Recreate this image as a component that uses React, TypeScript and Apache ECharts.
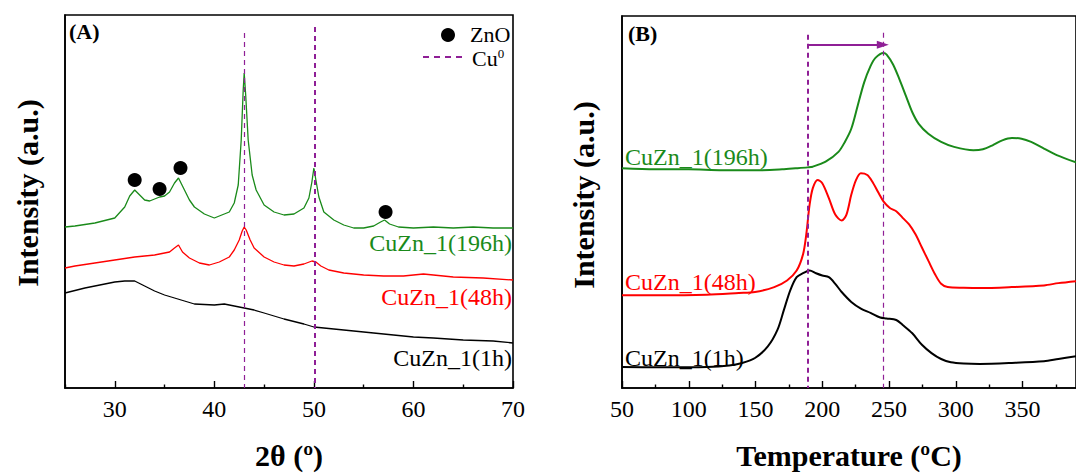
import React, { useEffect, useRef } from "react";
import * as echarts from "echarts";

// ---------- Panel A: XRD (2θ, intensity a.u.) ----------
const xrd196h: [number, number][] = [
  [25, 161], [26, 162], [28, 165], [30, 170], [31, 181], [31.5, 192], [32, 198], [32.5, 193],
  [33, 188], [33.5, 187], [34, 189], [34.5, 191], [35, 192], [35.5, 196], [36, 205], [36.4, 210],
  [37, 198], [37.5, 188], [38, 181], [39, 174], [40, 170], [41, 174], [41.5, 176], [42, 185],
  [42.4, 203], [42.7, 248], [42.9, 298], [43.0, 315], [43.15, 293], [43.4, 248], [43.8, 213],
  [44.2, 198], [45, 183], [46, 176], [47, 173], [48, 174], [49, 180], [49.5, 190], [49.8, 206],
  [50.0, 220], [50.2, 208], [50.5, 191], [51, 176], [52, 168], [53, 163], [54, 160], [55, 160],
  [56, 162], [56.7, 166], [57.1, 168], [57.6, 164], [58.5, 161], [60, 160], [62, 161], [64, 160],
  [66, 161], [68, 160], [70, 160],
];
const xrd48h: [number, number][] = [
  [25, 120], [26, 122], [28, 125], [30, 128], [32, 131], [34, 133], [35.5, 136], [36.0, 140],
  [36.4, 143], [36.8, 136], [37.5, 130], [38.5, 125], [39.5, 123], [40.5, 126], [41.5, 131],
  [42, 138], [42.5, 148], [42.8, 157], [43, 161], [43.2, 158], [43.6, 148], [44, 140], [45, 131],
  [46, 126], [47, 123], [48, 122], [49, 124], [49.8, 127], [50.2, 126], [50.7, 122], [51.5, 118],
  [53, 115], [55, 113], [57, 112], [59, 112], [61, 114], [62, 113], [64, 111], [67, 110], [70, 108],
];
const xrd1h: [number, number][] = [
  [25, 95], [27, 100], [29, 104], [30, 106], [31, 107], [32, 107], [33, 102], [34, 97], [35, 93],
  [36, 90], [37, 87], [38, 84], [40, 83], [41, 84], [42, 82], [43, 80], [44, 78], [45, 75],
  [47, 69], [49, 64], [50, 61], [52, 59], [54, 57], [56, 55], [58, 53], [60, 51], [62, 50],
  [65, 48], [68, 47], [70, 45],
];
const znoPeaks: [number, number][] = [[32.0, 208], [34.5, 199], [36.6, 220], [57.2, 176]];
const cuLinesA = [43.0, 50.1];
const rangeA = [25, 70];
const majorTicksA = [30, 40, 50, 60, 70];
const minorTicksA = [25, 35, 45, 55, 65];

// ---------- Panel B: TPR (temperature, intensity a.u.) ----------
const tpr196h: [number, number][] = [
  [50, 222], [75, 221], [100, 221], [125, 220], [150, 220], [170, 221], [180, 222], [189, 223],
  [192.9, 223.7], [202.5, 228.7], [212.1, 238.7], [216.9, 248.7], [221.7, 262], [226.5, 285.3],
  [231.3, 308.7], [236.1, 325.3], [239.8, 333.7], [245.8, 338.7], [248.2, 337], [253, 327],
  [257.8, 312], [262.6, 295.3], [267.4, 278.7], [272.2, 267], [279.4, 257], [289, 248.7],
  [298.7, 243.7], [313.1, 240.3], [320.3, 241.3], [327.5, 245.3], [334.8, 250.3], [342, 252.7],
  [349.2, 252], [356.4, 248.7], [366, 242], [375.6, 235.3], [390, 228],
];
const tpr48h: [number, number][] = [
  [50, 93.7], [77.4, 93.7], [113.5, 94.3], [137.5, 96], [149.6, 97], [164, 102], [173.6, 108.7],
  [180.8, 118.7], [185.6, 135.3], [188, 155.3], [190.5, 185.3], [192.9, 202], [196.5, 210.3],
  [200, 207], [204.9, 192], [209.7, 175.3], [214.5, 169.3], [218.1, 175.3], [221.7, 195.3],
  [225.3, 210.3], [228.9, 217], [233.7, 215.3], [237.4, 208.7], [242.2, 197], [245.8, 188.7],
  [250.6, 182], [255.4, 178.7], [260.2, 172], [265, 165.3], [269.8, 155.3], [274.6, 142],
  [279.4, 128.7], [284.3, 115.3], [289, 105.3], [293.9, 102], [305.9, 101.3], [317.9, 101],
  [342, 102], [366, 103.7], [376.8, 106], [390, 108],
];
const tpr1h: [number, number][] = [
  [50, 21.3], [77.4, 21], [113.5, 21.3], [130.3, 22.7], [140, 25.3], [149.6, 30.3], [159.2, 42],
  [166.4, 58.7], [171.2, 78.7], [176, 98.7], [180.8, 112], [185.6, 116], [190.5, 118.7],
  [195.3, 116], [200, 113.7], [204.9, 112], [209.7, 105.3], [214.5, 97], [221.7, 87],
  [228.9, 80.3], [236.1, 76], [243.4, 71.3], [248.2, 70.3], [255.4, 68.7], [260.2, 63.7],
  [267.4, 55.3], [274.6, 43.7], [281.8, 35.3], [289, 29.3], [296.3, 26], [305.9, 24.7],
  [317.9, 24.3], [342, 25.3], [366, 27], [376.8, 29.3], [390, 32],
];
const peakShiftB = [189, 245.3];
const rangeB = [50, 390];
const majorTicksB = [50, 100, 150, 200, 250, 300, 350];
const minorTicksB = [75, 125, 175, 225, 275, 325, 375];

const SERIF = "'Liberation Serif', 'Times New Roman', serif";
const PURPLE = "#8f1f96";
const GREEN = "#1a8a1a";
const RED = "#ff0000";
const BLACK = "#000000";

function majorX(gridIndex: number, range: number[], ticks: number[], name: string) {
  return {
    type: "value",
    gridIndex,
    position: "bottom",
    min: range[0],
    max: range[1],
    name,
    nameLocation: "middle",
    nameGap: 52,
    nameTextStyle: { fontFamily: SERIF, fontSize: 30, fontWeight: "bold", color: BLACK },
    axisLine: { show: true, onZero: false, lineStyle: { color: BLACK, width: 1.6 } },
    axisTick: { show: true, inside: true, length: 7, customValues: ticks, lineStyle: { color: BLACK, width: 1.4 } },
    axisLabel: { margin: 9, fontFamily: SERIF, fontSize: 24, color: BLACK, customValues: ticks },
    splitLine: { show: false },
  };
}

function minorX(gridIndex: number, range: number[], ticks: number[]) {
  return {
    type: "value",
    gridIndex,
    position: "bottom",
    min: range[0],
    max: range[1],
    axisLine: { show: false, onZero: false },
    axisTick: { show: true, inside: true, length: 3.5, customValues: ticks, lineStyle: { color: BLACK, width: 1.4 } },
    axisLabel: { show: false },
    splitLine: { show: false },
  };
}

function baseY(gridIndex: number, max: number) {
  return {
    type: "value",
    gridIndex,
    min: 0,
    max,
    axisLine: { show: true, onZero: false, lineStyle: { color: BLACK, width: 1.6 } },
    axisTick: { show: false },
    axisLabel: { show: false },
    splitLine: { show: false },
  };
}

function lineSeries(name: string, data: [number, number][], color: string, xi: number, yi: number, width: number, smooth: number | boolean) {
  return {
    name,
    type: "line",
    xAxisIndex: xi,
    yAxisIndex: yi,
    data,
    showSymbol: false,
    smooth,
    lineStyle: { color, width },
    itemStyle: { color },
    z: 3,
  };
}

const dashStyle = (width: number) => ({ color: PURPLE, width, type: [5, 4] as any });

export default function App() {
  const ref = useRef<HTMLDivElement>(null);
  useEffect(() => {
    if (!ref.current) return;
    const chart = echarts.init(ref.current, null, { renderer: "svg" });
    const option: any = {
      animation: false,
      backgroundColor: "#ffffff",
      grid: [
        { left: 65, top: 15, width: 448, height: 373, show: true, borderColor: BLACK, borderWidth: 1.6, backgroundColor: "transparent" },
        { left: 622, top: 16, width: 471, height: 376, show: true, borderColor: BLACK, borderWidth: 1.6, backgroundColor: "transparent" },
      ],
      xAxis: [
        majorX(0, rangeA, majorTicksA, "2θ (º)"),
        majorX(1, rangeB, majorTicksB, "Temperature (ºC)"),
        minorX(0, rangeA, minorTicksA),
        minorX(1, rangeB, minorTicksB),
      ],
      yAxis: [baseY(0, 373), baseY(1, 376)],
      series: [
        lineSeries("CuZn_1(196h)", xrd196h, GREEN, 0, 0, 1.3, false),
        lineSeries("CuZn_1(48h)", xrd48h, RED, 0, 0, 1.3, false),
        lineSeries("CuZn_1(1h)", xrd1h, BLACK, 0, 0, 1.3, false),
        {
          name: "ZnO",
          type: "scatter",
          xAxisIndex: 0,
          yAxisIndex: 0,
          data: znoPeaks,
          symbol: "circle",
          symbolSize: 14,
          itemStyle: { color: BLACK, opacity: 1 },
          z: 4,
        },
        {
          name: "Cu0",
          type: "line",
          xAxisIndex: 0,
          yAxisIndex: 0,
          data: [],
          markLine: {
            silent: true,
            symbol: ["none", "none"],
            label: { show: false },
            data: [
              [{ coord: [cuLinesA[0], 355], lineStyle: dashStyle(1.2) }, { coord: [cuLinesA[0], 0] }],
              [{ coord: [cuLinesA[1], 361], lineStyle: dashStyle(2) }, { coord: [cuLinesA[1], 0] }],
            ],
          },
        },
        lineSeries("CuZn_1(196h) TPR", tpr196h, GREEN, 1, 1, 2, 0.3),
        lineSeries("CuZn_1(48h) TPR", tpr48h, RED, 1, 1, 2, 0.3),
        lineSeries("CuZn_1(1h) TPR", tpr1h, BLACK, 1, 1, 2, 0.3),
        {
          name: "shift",
          type: "line",
          xAxisIndex: 1,
          yAxisIndex: 1,
          data: [],
          markLine: {
            silent: true,
            symbol: ["none", "none"],
            label: { show: false },
            data: [
              [{ coord: [peakShiftB[0], 357], lineStyle: dashStyle(2) }, { coord: [peakShiftB[0], 0] }],
              [{ coord: [peakShiftB[1], 359], lineStyle: dashStyle(1.2) }, { coord: [peakShiftB[1], 0] }],
              [
                { coord: [peakShiftB[0], 347], symbol: "none", lineStyle: { color: PURPLE, width: 2, type: "solid" } },
                { coord: [peakShiftB[1], 347], symbol: "triangle", symbolSize: [8, 12], symbolRotate: -90 },
              ],
            ],
          },
        },
      ],
      graphic: [
        // Panel A texts
        { type: "text", left: 69, top: 20, style: { text: "(A)", font: `bold 22px ${SERIF}`, fill: BLACK } },
        { type: "circle", shape: { cx: 448, cy: 35, r: 7 }, style: { fill: BLACK } },
        { type: "text", x: 470, y: 34, style: { text: "ZnO", font: `22px ${SERIF}`, fill: BLACK, verticalAlign: "middle" } },
        { type: "line", shape: { x1: 423, y1: 57, x2: 466, y2: 57 }, style: { stroke: PURPLE, lineWidth: 2, lineDash: [6, 5] } },
        {
          type: "text",
          x: 472,
          y: 58,
          style: {
            text: "{a|Cu}{b|0}",
            verticalAlign: "middle",
            rich: {
              a: { fontFamily: SERIF, fontSize: 22, fill: BLACK },
              b: { fontFamily: SERIF, fontSize: 13, fill: BLACK, verticalAlign: "top", padding: [0, 0, 10, 0] },
            },
          },
        },
        { type: "text", x: 512, y: 243, style: { text: "CuZn_1(196h)", font: `24px ${SERIF}`, fill: GREEN, align: "right", verticalAlign: "middle" } },
        { type: "text", x: 512, y: 297, style: { text: "CuZn_1(48h)", font: `24px ${SERIF}`, fill: RED, align: "right", verticalAlign: "middle" } },
        { type: "text", x: 512, y: 358, style: { text: "CuZn_1(1h)", font: `24px ${SERIF}`, fill: BLACK, align: "right", verticalAlign: "middle" } },
        { type: "text", x: 27, y: 193, rotation: Math.PI / 2, style: { text: "Intensity (a.u.)", font: `bold 30px ${SERIF}`, fill: BLACK, align: "center", verticalAlign: "middle" } },
        // Panel B texts
        { type: "text", left: 628, top: 22, style: { text: "(B)", font: `bold 22px ${SERIF}`, fill: BLACK } },
        { type: "text", x: 625, y: 157, style: { text: "CuZn_1(196h)", font: `24px ${SERIF}`, fill: GREEN, verticalAlign: "middle" } },
        { type: "text", x: 625, y: 282, style: { text: "CuZn_1(48h)", font: `24px ${SERIF}`, fill: RED, verticalAlign: "middle" } },
        { type: "text", x: 625, y: 358, style: { text: "CuZn_1(1h)", font: `24px ${SERIF}`, fill: BLACK, verticalAlign: "middle" } },
        { type: "text", x: 583, y: 195, rotation: Math.PI / 2, style: { text: "Intensity (a.u.)", font: `bold 30px ${SERIF}`, fill: BLACK, align: "center", verticalAlign: "middle" } },
      ],
    };
    chart.setOption(option);
    return () => chart.dispose();
  }, []);
  return (
    <div
      ref={ref}
      style={{ position: "absolute", left: 0, top: 0, width: 1076, height: 475, background: "#fff" }}
    />
  );
}
